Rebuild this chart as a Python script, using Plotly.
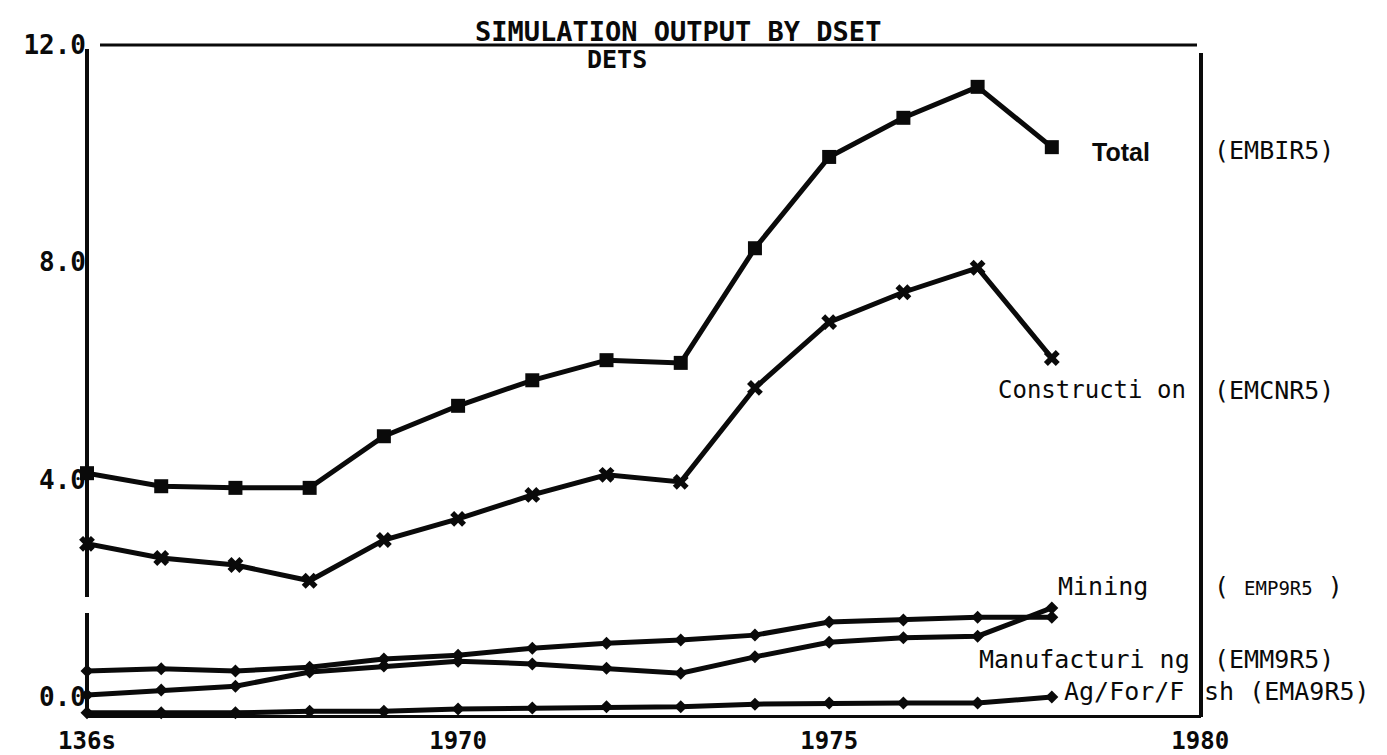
"""Simulation output by DSET - employment series, DET5."""
import plotly.graph_objects as go

# --- Data ---
YEARS = list(range(1965, 1979))

TOTAL = [4.12, 3.88, 3.85, 3.85, 4.80, 5.36, 5.83, 6.20, 6.15, 8.26, 9.94, 10.66, 11.23, 10.12]
CONSTRUCTION = [2.82, 2.56, 2.43, 2.14, 2.89, 3.28, 3.72, 4.09, 3.96, 5.69, 6.90, 7.45, 7.90, 6.24]
MANUFACTURING = [0.48, 0.52, 0.48, 0.55, 0.70, 0.77, 0.90, 0.99, 1.05, 1.14, 1.38, 1.42, 1.47, 1.47]
MINING = [0.04, 0.13, 0.20, 0.46, 0.57, 0.66, 0.61, 0.53, 0.44, 0.74, 1.01, 1.09, 1.12, 1.64]
AG_FOR_FISH = [-0.29, -0.29, -0.29, -0.26, -0.26, -0.22, -0.20, -0.18, -0.18, -0.13, -0.11, -0.11, -0.11, 0.0]

X_TICKS = [1965, 1970, 1975, 1980]
X_TICK_TEXT = ["136s", "1970", "1975", "1980"]
Y_TICKS = [0, 4, 8, 12]
Y_TICK_TEXT = ["0.0", "4.0", "8.0", "12.0"]

# --- Style ---
INK = "#0a0a0a"
DOT_FONT = "DejaVu Sans Mono"
LABEL_FONT = "DejaVu Sans Mono"
LINE_W = 5

SERIES = [
    (TOTAL, "Total", dict(symbol="square", size=14)),
    (CONSTRUCTION, "Construction", dict(symbol="x", size=14)),
    (MANUFACTURING, "Manufacturing", dict(symbol="diamond", size=10)),
    (MINING, "Mining", dict(symbol="diamond", size=10)),
    (AG_FOR_FISH, "Ag/For/Fish", dict(symbol="diamond", size=10)),
]

# --- Figure geometry ---
# the page body adds an 8px margin, so the figure is sized/placed to compensate;
# all positions below are given in screen pixels of the final picture
PAGE_PAD = 8
SCREEN_W, SCREEN_H = 1387, 755
WIDTH, HEIGHT = SCREEN_W - PAGE_PAD, SCREEN_H - PAGE_PAD
PLOT_LEFT, PLOT_RIGHT, PLOT_TOP, PLOT_BOTTOM = 87, 1201, 45, 715
M_L = PLOT_LEFT - PAGE_PAD
M_T = PLOT_TOP - PAGE_PAD
M_R = SCREEN_W - PLOT_RIGHT
M_B = SCREEN_H - PLOT_BOTTOM
PLOT_W = PLOT_RIGHT - PLOT_LEFT
PLOT_H = PLOT_BOTTOM - PLOT_TOP


def px_x(px):
    """Screen x -> paper x."""
    return (px - PLOT_LEFT) / PLOT_W


def px_y(py):
    """Screen y (from top) -> paper y."""
    return (PLOT_BOTTOM - py) / PLOT_H


def add_label(fig, text, left, mid, size=25, bold=False, family=LABEL_FONT, anchor="left"):
    fig.add_annotation(
        xref="paper", yref="paper", x=px_x(left), y=px_y(mid),
        xanchor=anchor, yanchor="middle", text=text, showarrow=False,
        font=dict(family=family, size=size, color=INK, weight="bold" if bold else "normal"),
    )


def add_frame_line(fig, x0, y0, x1, y1, width=3):
    fig.add_shape(
        type="line", xref="paper", yref="paper",
        x0=px_x(x0), y0=px_y(y0), x1=px_x(x1), y1=px_y(y1),
        line=dict(color=INK, width=width),
    )


fig = go.Figure()

for values, name, marker in SERIES:
    fig.add_trace(go.Scatter(
        x=YEARS, y=values, name=name, mode="lines+markers",
        line=dict(color=INK, width=LINE_W),
        marker=dict(color=INK, line=dict(width=0), **marker),
        cliponaxis=False,
    ))

# frame: top rule, left axis (with its small break), right rule
add_frame_line(fig, 100, 45, 1197, 45)
add_frame_line(fig, 87, 715, 87, 613, width=4)
add_frame_line(fig, 87, 597, 87, 49, width=4)
add_frame_line(fig, 1201, 717, 1201, 53, width=4)

# titles
add_label(fig, "SIMULATION OUTPUT BY DSET", 678, 32, size=27, bold=True,
          family=DOT_FONT, anchor="center")
add_label(fig, "DETS", 617, 60, size=25, bold=True, family=DOT_FONT, anchor="center")

# series labels and variable names
add_label(fig, "Total", 1090, 152, bold=True, family="Liberation Sans")
add_label(fig, "(EMBIR5)", 1212, 150)
add_label(fig, "Constructi on", 996, 390, size=24)
add_label(fig, "(EMCNR5)", 1212, 390)
add_label(fig, "Mining", 1056, 586)
add_label(fig, "( <span style='font-size:19px'>EMP9R5</span> )", 1212, 586)
add_label(fig, "Manufacturi ng", 977, 659)
add_label(fig, "(EMM9R5)", 1212, 659)
add_label(fig, "Ag/For/F", 1062, 691)
add_label(fig, "sh (EMA9R5)", 1202, 691)

fig.update_layout(
    width=WIDTH, height=HEIGHT,
    margin=dict(l=M_L, r=M_R, t=M_T, b=M_B, autoexpand=False),
    plot_bgcolor="white", paper_bgcolor="white",
    showlegend=False,
    xaxis=dict(
        range=[1965, 1980.01], tickvals=X_TICKS, ticktext=X_TICK_TEXT,
        showgrid=False, zeroline=False, ticks="", automargin=False,
        showline=True, linecolor=INK, linewidth=3,
        ticklabelstandoff=2,
        tickfont=dict(family=DOT_FONT, size=24, color=INK, weight="bold"),
    ),
    yaxis=dict(
        range=[-0.33, 12], tickvals=Y_TICKS, ticktext=Y_TICK_TEXT,
        showgrid=False, zeroline=False, ticks="", showline=False, automargin=False,
        ticklabelstandoff=0,
        tickfont=dict(family=DOT_FONT, size=26, color=INK, weight="bold"),
    ),
)

fig.write_html("out.html")
